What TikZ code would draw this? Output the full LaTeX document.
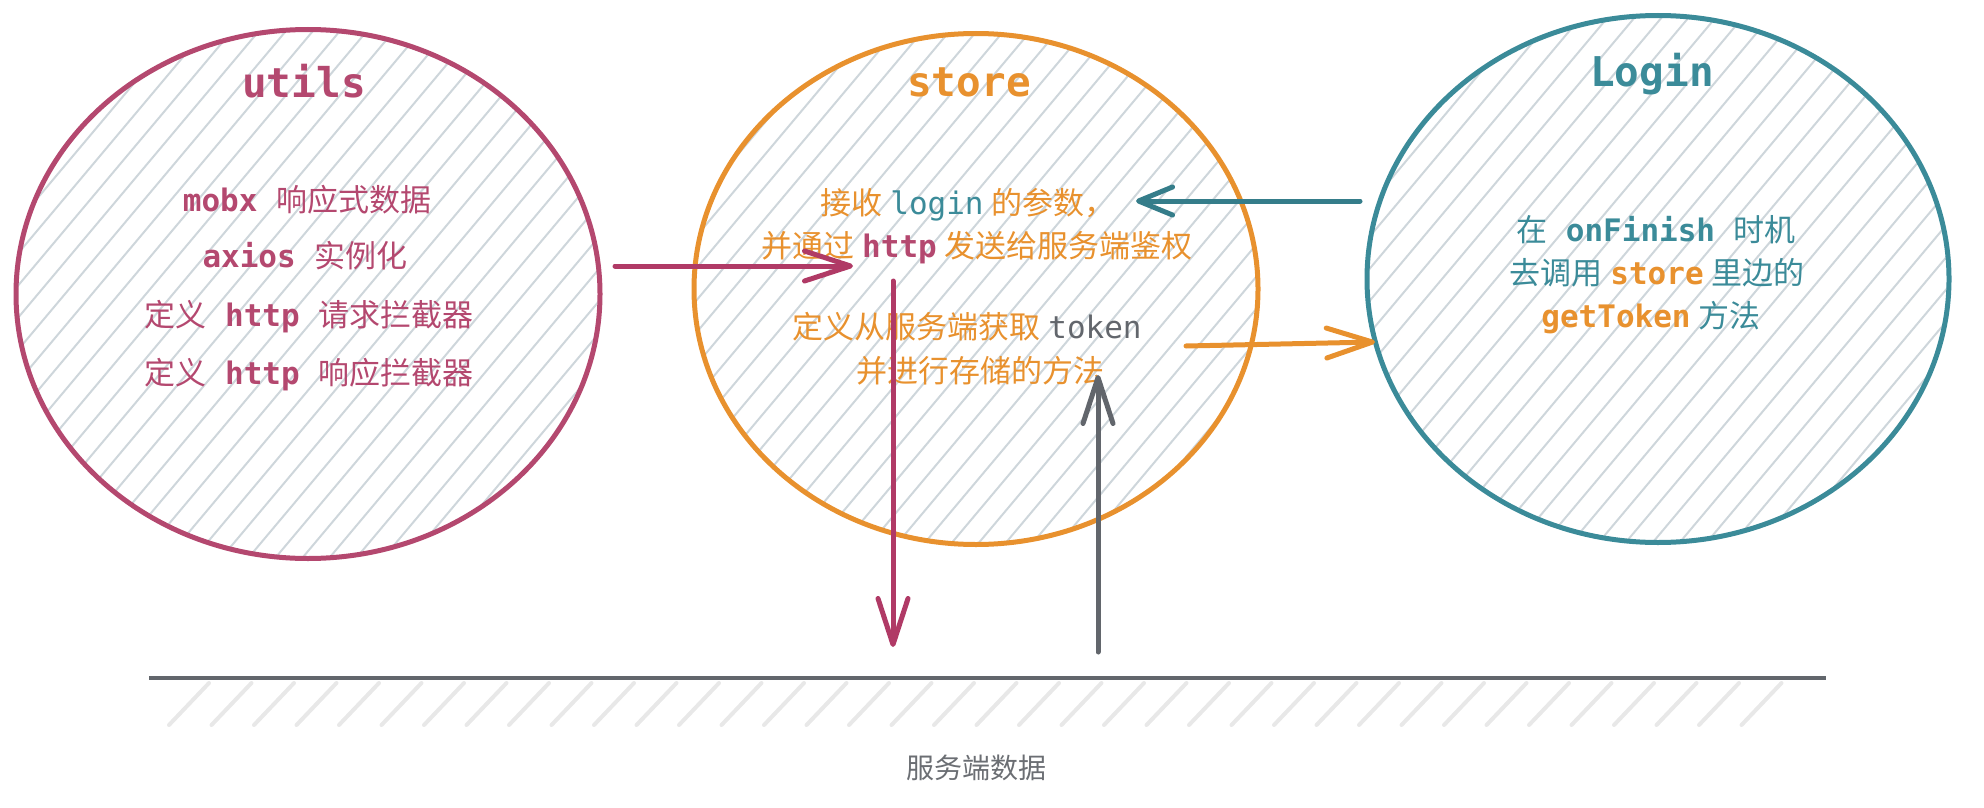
\documentclass[tikz,border=0pt]{standalone}
\usepackage{fontspec}
\setmainfont{Noto Sans CJK SC}
\newfontfamily\monof{DejaVu Sans Mono}
\usetikzlibrary{shapes.geometric,arrows.meta,calc}
\definecolor{cpink}{HTML}{B4486F}
\definecolor{cpinkarr}{HTML}{B03A66}
\definecolor{corange}{HTML}{E8912E}
\definecolor{cteal}{HTML}{3B8B99}
\definecolor{cgray}{HTML}{62666C}
\definecolor{ctext}{HTML}{6B6E73}
\definecolor{chatch}{HTML}{CED6DB}
\definecolor{cghatch}{HTML}{E8E8E8}
\newcommand{\mn}[1]{{\monof\bfseries#1}}
\newcommand{\ml}[1]{{\monof#1}}
\newcommand{\gap}{\hspace*{8pt}}
\tikzset{
  bubble/.style={ellipse, draw, line width=5pt, inner sep=0pt,
    path picture={
      \foreach \i in {-32,...,32}
        \draw[chatch, line width=2pt]
          ($(path picture bounding box.center)+(\i*27-294,350)$) -- ++(588,-700);
    }},
  title/.style={anchor=base, inner sep=0pt, font=\monof\bfseries\fontsize{41}{48}\selectfont},
  txt/.style={anchor=base, inner sep=0pt, font=\fontsize{31}{38}\selectfont},
  conn/.style={line width=5pt, line cap=round,
    -{Straight Barb[length=46pt,width=30pt,round]}},
  connsmall/.style={line width=5pt, line cap=round,
    -{Straight Barb[length=34pt,width=28pt,round]}},
  ghatch/.style={cghatch, line width=4pt, line cap=round},
}
\begin{document}
\begin{tikzpicture}[x=1pt,y=-1pt]
\useasboundingbox (0,0) rectangle (1984,808);

% ellipses
\node[bubble, draw=cpink, minimum width=584pt, minimum height=529pt] (utils) at (308,294) {};
\node[bubble, draw=corange, minimum width=564pt, minimum height=511pt] (store) at (976,289) {};
\node[bubble, draw=cteal, minimum width=582pt, minimum height=527pt] (login) at (1658,279) {};

% utils texts
\node[title, text=cpink] (ut) at (304,97) {utils};
\node[txt, text=cpink] (u1) at (307,211) {\mn{mobx~}响应式数据};
\node[txt, text=cpink] (u2) at (305,267) {\mn{axios~}实例化};
\node[txt, text=cpink] (u3) at (309,326) {定义\mn{~http~}请求拦截器};
\node[txt, text=cpink] (u4) at (309,384) {定义\mn{~http~}响应拦截器};

% store texts
\node[title, text=corange] (st) at (969,96) {store};
\node[txt, text=corange] (s1) at (968,214) {接收\gap\ml{\textcolor{cteal}{login}}\gap 的参数，};
\node[txt, text=corange] (s2) at (977,257) {并通过\gap\mn{\textcolor{cpink}{http}}\gap 发送给服务端鉴权};
\node[txt, text=corange] (s3) at (967,338) {定义从服务端获取\gap\ml{\textcolor{cgray}{token}}};
\node[txt, text=corange] (s4) at (980,382) {并进行存储的方法};

% login texts
\node[title, text=cteal] (lt) at (1652,87) {Login};
\node[txt, text=cteal] (l1) at (1656,241) {在\mn{~onFinish~}时机};
\node[txt, text=cteal] (l2) at (1657,284) {去调用\gap\mn{\textcolor{corange}{store}}\gap 里边的};
\node[txt, text=cteal] (l3) at (1651,327) {\mn{\textcolor{corange}{getToken}}\gap 方法};

% ground
\coordinate (g1) at (149,678);
\coordinate (g2) at (1826,678);
\draw[cgray, line width=4.5pt] (g1) -- (g2);
\foreach \i in {0,...,37}
  \draw[ghatch] (169+42.5*\i,725) -- ++(40,-42);
\node[anchor=base, inner sep=0pt, text=ctext, font=\fontsize{28}{34}\selectfont] (server) at (976,778) {服务端数据};

% arrow end points
\coordinate (a1s) at (615,266);
\coordinate (a1e) at (853,266);
\coordinate (a2s) at (1360,201);
\coordinate (a2e) at (1136,201);
\coordinate (a3s) at (1186,346);
\coordinate (a3e) at (1375,342);
\coordinate (a4s) at (893,281);
\coordinate (a4e) at (893,647);
\coordinate (a5s) at (1098,652);
\coordinate (a5e) at (1098,375);

\draw[conn, cpinkarr] (a1s) -- (a1e);
\draw[connsmall, cteal!90!black] (a2s) -- (a2e);
\draw[conn, corange] (a3s) -- (a3e);
\draw[conn, cpinkarr] (a4s) -- (a4e);
\draw[conn, cgray] (a5s) -- (a5e);
\end{tikzpicture}
\end{document}
